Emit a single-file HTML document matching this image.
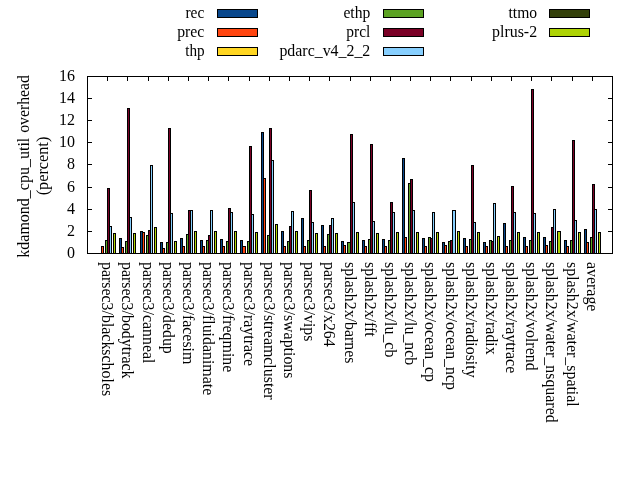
<!DOCTYPE html>
<html><head><meta charset="utf-8"><title>kdamond_cpu_util overhead</title>
<style>html,body{margin:0;padding:0;background:#fff}svg{display:block}text{font-family:"Liberation Serif",serif;font-size:16px;fill:#000}</style></head><body>
<svg width="640" height="480" viewBox="0 0 640 480">
<rect width="640" height="480" fill="#fff"/>
<g shape-rendering="crispEdges">
<rect x="101.5" y="246.5" width="2" height="7" fill="#ff4510" stroke="#000" stroke-width="1"/>
<rect x="105.5" y="240.5" width="2" height="13" fill="#5ca223" stroke="#000" stroke-width="1"/>
<rect x="107.5" y="188.5" width="2" height="65" fill="#7a0026" stroke="#000" stroke-width="1"/>
<rect x="109.5" y="226.5" width="2" height="27" fill="#87cffe" stroke="#000" stroke-width="1"/>
<rect x="113.5" y="233.5" width="2" height="20" fill="#aed304" stroke="#000" stroke-width="1"/>
<rect x="119.5" y="238.5" width="2" height="15" fill="#08478c" stroke="#000" stroke-width="1"/>
<rect x="121.5" y="247.5" width="2" height="6" fill="#ff4510" stroke="#000" stroke-width="1"/>
<rect x="125.5" y="241.5" width="2" height="12" fill="#5ca223" stroke="#000" stroke-width="1"/>
<rect x="127.5" y="108.5" width="2" height="145" fill="#7a0026" stroke="#000" stroke-width="1"/>
<rect x="129.5" y="217.5" width="2" height="36" fill="#87cffe" stroke="#000" stroke-width="1"/>
<rect x="133.5" y="233.5" width="2" height="20" fill="#aed304" stroke="#000" stroke-width="1"/>
<rect x="140.5" y="231.5" width="2" height="22" fill="#08478c" stroke="#000" stroke-width="1"/>
<rect x="142.5" y="232.5" width="2" height="21" fill="#ff4510" stroke="#000" stroke-width="1"/>
<rect x="146.5" y="235.5" width="2" height="18" fill="#5ca223" stroke="#000" stroke-width="1"/>
<rect x="148.5" y="230.5" width="2" height="23" fill="#7a0026" stroke="#000" stroke-width="1"/>
<rect x="150.5" y="165.5" width="2" height="88" fill="#87cffe" stroke="#000" stroke-width="1"/>
<rect x="154.5" y="227.5" width="2" height="26" fill="#aed304" stroke="#000" stroke-width="1"/>
<rect x="160.5" y="242.5" width="2" height="11" fill="#08478c" stroke="#000" stroke-width="1"/>
<rect x="162.5" y="248.5" width="2" height="5" fill="#ff4510" stroke="#000" stroke-width="1"/>
<rect x="166.5" y="242.5" width="2" height="11" fill="#5ca223" stroke="#000" stroke-width="1"/>
<rect x="168.5" y="128.5" width="2" height="125" fill="#7a0026" stroke="#000" stroke-width="1"/>
<rect x="170.5" y="213.5" width="2" height="40" fill="#87cffe" stroke="#000" stroke-width="1"/>
<rect x="174.5" y="241.5" width="2" height="12" fill="#aed304" stroke="#000" stroke-width="1"/>
<rect x="180.5" y="238.5" width="2" height="15" fill="#08478c" stroke="#000" stroke-width="1"/>
<rect x="182.5" y="246.5" width="2" height="7" fill="#ff4510" stroke="#000" stroke-width="1"/>
<rect x="186.5" y="234.5" width="2" height="19" fill="#5ca223" stroke="#000" stroke-width="1"/>
<rect x="188.5" y="210.5" width="2" height="43" fill="#7a0026" stroke="#000" stroke-width="1"/>
<rect x="190.5" y="210.5" width="2" height="43" fill="#87cffe" stroke="#000" stroke-width="1"/>
<rect x="194.5" y="231.5" width="2" height="22" fill="#aed304" stroke="#000" stroke-width="1"/>
<rect x="200.5" y="240.5" width="2" height="13" fill="#08478c" stroke="#000" stroke-width="1"/>
<rect x="202.5" y="246.5" width="2" height="7" fill="#ff4510" stroke="#000" stroke-width="1"/>
<rect x="206.5" y="240.5" width="2" height="13" fill="#5ca223" stroke="#000" stroke-width="1"/>
<rect x="208.5" y="235.5" width="2" height="18" fill="#7a0026" stroke="#000" stroke-width="1"/>
<rect x="210.5" y="210.5" width="2" height="43" fill="#87cffe" stroke="#000" stroke-width="1"/>
<rect x="214.5" y="231.5" width="2" height="22" fill="#aed304" stroke="#000" stroke-width="1"/>
<rect x="220.5" y="239.5" width="2" height="14" fill="#08478c" stroke="#000" stroke-width="1"/>
<rect x="222.5" y="246.5" width="2" height="7" fill="#ff4510" stroke="#000" stroke-width="1"/>
<rect x="226.5" y="241.5" width="2" height="12" fill="#5ca223" stroke="#000" stroke-width="1"/>
<rect x="228.5" y="208.5" width="2" height="45" fill="#7a0026" stroke="#000" stroke-width="1"/>
<rect x="230.5" y="212.5" width="2" height="41" fill="#87cffe" stroke="#000" stroke-width="1"/>
<rect x="234.5" y="231.5" width="2" height="22" fill="#aed304" stroke="#000" stroke-width="1"/>
<rect x="240.5" y="240.5" width="2" height="13" fill="#08478c" stroke="#000" stroke-width="1"/>
<rect x="242.5" y="246.5" width="3" height="7" fill="#ff4510" stroke="#000" stroke-width="1"/>
<rect x="247.5" y="241.5" width="2" height="12" fill="#5ca223" stroke="#000" stroke-width="1"/>
<rect x="249.5" y="146.5" width="2" height="107" fill="#7a0026" stroke="#000" stroke-width="1"/>
<rect x="251.5" y="214.5" width="2" height="39" fill="#87cffe" stroke="#000" stroke-width="1"/>
<rect x="255.5" y="232.5" width="2" height="21" fill="#aed304" stroke="#000" stroke-width="1"/>
<rect x="261.5" y="132.5" width="2" height="121" fill="#08478c" stroke="#000" stroke-width="1"/>
<rect x="263.5" y="178.5" width="2" height="75" fill="#ff4510" stroke="#000" stroke-width="1"/>
<rect x="267.5" y="235.5" width="2" height="18" fill="#5ca223" stroke="#000" stroke-width="1"/>
<rect x="269.5" y="128.5" width="2" height="125" fill="#7a0026" stroke="#000" stroke-width="1"/>
<rect x="271.5" y="160.5" width="2" height="93" fill="#87cffe" stroke="#000" stroke-width="1"/>
<rect x="275.5" y="224.5" width="2" height="29" fill="#aed304" stroke="#000" stroke-width="1"/>
<rect x="281.5" y="231.5" width="2" height="22" fill="#08478c" stroke="#000" stroke-width="1"/>
<rect x="283.5" y="246.5" width="2" height="7" fill="#ff4510" stroke="#000" stroke-width="1"/>
<rect x="287.5" y="241.5" width="2" height="12" fill="#5ca223" stroke="#000" stroke-width="1"/>
<rect x="289.5" y="226.5" width="2" height="27" fill="#7a0026" stroke="#000" stroke-width="1"/>
<rect x="291.5" y="211.5" width="2" height="42" fill="#87cffe" stroke="#000" stroke-width="1"/>
<rect x="295.5" y="231.5" width="2" height="22" fill="#aed304" stroke="#000" stroke-width="1"/>
<rect x="301.5" y="218.5" width="2" height="35" fill="#08478c" stroke="#000" stroke-width="1"/>
<rect x="303.5" y="246.5" width="2" height="7" fill="#ff4510" stroke="#000" stroke-width="1"/>
<rect x="307.5" y="240.5" width="2" height="13" fill="#5ca223" stroke="#000" stroke-width="1"/>
<rect x="309.5" y="190.5" width="2" height="63" fill="#7a0026" stroke="#000" stroke-width="1"/>
<rect x="311.5" y="222.5" width="2" height="31" fill="#87cffe" stroke="#000" stroke-width="1"/>
<rect x="315.5" y="233.5" width="2" height="20" fill="#aed304" stroke="#000" stroke-width="1"/>
<rect x="321.5" y="225.5" width="2" height="28" fill="#08478c" stroke="#000" stroke-width="1"/>
<rect x="323.5" y="246.5" width="2" height="7" fill="#ff4510" stroke="#000" stroke-width="1"/>
<rect x="327.5" y="234.5" width="2" height="19" fill="#5ca223" stroke="#000" stroke-width="1"/>
<rect x="329.5" y="225.5" width="2" height="28" fill="#7a0026" stroke="#000" stroke-width="1"/>
<rect x="331.5" y="218.5" width="2" height="35" fill="#87cffe" stroke="#000" stroke-width="1"/>
<rect x="335.5" y="233.5" width="2" height="20" fill="#aed304" stroke="#000" stroke-width="1"/>
<rect x="341.5" y="241.5" width="2" height="12" fill="#08478c" stroke="#000" stroke-width="1"/>
<rect x="343.5" y="245.5" width="2" height="8" fill="#ff4510" stroke="#000" stroke-width="1"/>
<rect x="347.5" y="242.5" width="3" height="11" fill="#5ca223" stroke="#000" stroke-width="1"/>
<rect x="350.5" y="134.5" width="2" height="119" fill="#7a0026" stroke="#000" stroke-width="1"/>
<rect x="352.5" y="202.5" width="2" height="51" fill="#87cffe" stroke="#000" stroke-width="1"/>
<rect x="356.5" y="232.5" width="2" height="21" fill="#aed304" stroke="#000" stroke-width="1"/>
<rect x="362.5" y="240.5" width="2" height="13" fill="#08478c" stroke="#000" stroke-width="1"/>
<rect x="364.5" y="246.5" width="2" height="7" fill="#ff4510" stroke="#000" stroke-width="1"/>
<rect x="368.5" y="239.5" width="2" height="14" fill="#5ca223" stroke="#000" stroke-width="1"/>
<rect x="370.5" y="144.5" width="2" height="109" fill="#7a0026" stroke="#000" stroke-width="1"/>
<rect x="372.5" y="221.5" width="2" height="32" fill="#87cffe" stroke="#000" stroke-width="1"/>
<rect x="376.5" y="233.5" width="2" height="20" fill="#aed304" stroke="#000" stroke-width="1"/>
<rect x="382.5" y="239.5" width="2" height="14" fill="#08478c" stroke="#000" stroke-width="1"/>
<rect x="384.5" y="246.5" width="2" height="7" fill="#ff4510" stroke="#000" stroke-width="1"/>
<rect x="388.5" y="240.5" width="2" height="13" fill="#5ca223" stroke="#000" stroke-width="1"/>
<rect x="390.5" y="202.5" width="2" height="51" fill="#7a0026" stroke="#000" stroke-width="1"/>
<rect x="392.5" y="212.5" width="2" height="41" fill="#87cffe" stroke="#000" stroke-width="1"/>
<rect x="396.5" y="232.5" width="2" height="21" fill="#aed304" stroke="#000" stroke-width="1"/>
<rect x="402.5" y="158.5" width="2" height="95" fill="#08478c" stroke="#000" stroke-width="1"/>
<rect x="404.5" y="237.5" width="2" height="16" fill="#ff4510" stroke="#000" stroke-width="1"/>
<rect x="408.5" y="183.5" width="2" height="70" fill="#5ca223" stroke="#000" stroke-width="1"/>
<rect x="410.5" y="179.5" width="2" height="74" fill="#7a0026" stroke="#000" stroke-width="1"/>
<rect x="412.5" y="210.5" width="2" height="43" fill="#87cffe" stroke="#000" stroke-width="1"/>
<rect x="416.5" y="232.5" width="2" height="21" fill="#aed304" stroke="#000" stroke-width="1"/>
<rect x="422.5" y="238.5" width="2" height="15" fill="#08478c" stroke="#000" stroke-width="1"/>
<rect x="424.5" y="246.5" width="2" height="7" fill="#ff4510" stroke="#000" stroke-width="1"/>
<rect x="428.5" y="237.5" width="2" height="16" fill="#5ca223" stroke="#000" stroke-width="1"/>
<rect x="430.5" y="238.5" width="2" height="15" fill="#7a0026" stroke="#000" stroke-width="1"/>
<rect x="432.5" y="212.5" width="2" height="41" fill="#87cffe" stroke="#000" stroke-width="1"/>
<rect x="436.5" y="232.5" width="2" height="21" fill="#aed304" stroke="#000" stroke-width="1"/>
<rect x="442.5" y="242.5" width="2" height="11" fill="#08478c" stroke="#000" stroke-width="1"/>
<rect x="444.5" y="245.5" width="2" height="8" fill="#ff4510" stroke="#000" stroke-width="1"/>
<rect x="448.5" y="241.5" width="2" height="12" fill="#5ca223" stroke="#000" stroke-width="1"/>
<rect x="450.5" y="240.5" width="2" height="13" fill="#7a0026" stroke="#000" stroke-width="1"/>
<rect x="452.5" y="210.5" width="3" height="43" fill="#87cffe" stroke="#000" stroke-width="1"/>
<rect x="457.5" y="231.5" width="2" height="22" fill="#aed304" stroke="#000" stroke-width="1"/>
<rect x="463.5" y="238.5" width="2" height="15" fill="#08478c" stroke="#000" stroke-width="1"/>
<rect x="465.5" y="246.5" width="2" height="7" fill="#ff4510" stroke="#000" stroke-width="1"/>
<rect x="469.5" y="239.5" width="2" height="14" fill="#5ca223" stroke="#000" stroke-width="1"/>
<rect x="471.5" y="165.5" width="2" height="88" fill="#7a0026" stroke="#000" stroke-width="1"/>
<rect x="473.5" y="222.5" width="2" height="31" fill="#87cffe" stroke="#000" stroke-width="1"/>
<rect x="477.5" y="232.5" width="2" height="21" fill="#aed304" stroke="#000" stroke-width="1"/>
<rect x="483.5" y="242.5" width="2" height="11" fill="#08478c" stroke="#000" stroke-width="1"/>
<rect x="485.5" y="246.5" width="2" height="7" fill="#ff4510" stroke="#000" stroke-width="1"/>
<rect x="489.5" y="240.5" width="2" height="13" fill="#5ca223" stroke="#000" stroke-width="1"/>
<rect x="491.5" y="241.5" width="2" height="12" fill="#7a0026" stroke="#000" stroke-width="1"/>
<rect x="493.5" y="203.5" width="2" height="50" fill="#87cffe" stroke="#000" stroke-width="1"/>
<rect x="497.5" y="236.5" width="2" height="17" fill="#aed304" stroke="#000" stroke-width="1"/>
<rect x="503.5" y="223.5" width="2" height="30" fill="#08478c" stroke="#000" stroke-width="1"/>
<rect x="505.5" y="246.5" width="2" height="7" fill="#ff4510" stroke="#000" stroke-width="1"/>
<rect x="509.5" y="240.5" width="2" height="13" fill="#5ca223" stroke="#000" stroke-width="1"/>
<rect x="511.5" y="186.5" width="2" height="67" fill="#7a0026" stroke="#000" stroke-width="1"/>
<rect x="513.5" y="212.5" width="2" height="41" fill="#87cffe" stroke="#000" stroke-width="1"/>
<rect x="517.5" y="232.5" width="2" height="21" fill="#aed304" stroke="#000" stroke-width="1"/>
<rect x="523.5" y="237.5" width="2" height="16" fill="#08478c" stroke="#000" stroke-width="1"/>
<rect x="525.5" y="246.5" width="2" height="7" fill="#ff4510" stroke="#000" stroke-width="1"/>
<rect x="529.5" y="240.5" width="2" height="13" fill="#5ca223" stroke="#000" stroke-width="1"/>
<rect x="531.5" y="89.5" width="2" height="164" fill="#7a0026" stroke="#000" stroke-width="1"/>
<rect x="533.5" y="213.5" width="2" height="40" fill="#87cffe" stroke="#000" stroke-width="1"/>
<rect x="537.5" y="232.5" width="2" height="21" fill="#aed304" stroke="#000" stroke-width="1"/>
<rect x="543.5" y="237.5" width="2" height="16" fill="#08478c" stroke="#000" stroke-width="1"/>
<rect x="545.5" y="245.5" width="2" height="8" fill="#ff4510" stroke="#000" stroke-width="1"/>
<rect x="549.5" y="241.5" width="2" height="12" fill="#5ca223" stroke="#000" stroke-width="1"/>
<rect x="551.5" y="227.5" width="2" height="26" fill="#7a0026" stroke="#000" stroke-width="1"/>
<rect x="553.5" y="209.5" width="2" height="44" fill="#87cffe" stroke="#000" stroke-width="1"/>
<rect x="557.5" y="231.5" width="3" height="22" fill="#aed304" stroke="#000" stroke-width="1"/>
<rect x="564.5" y="240.5" width="2" height="13" fill="#08478c" stroke="#000" stroke-width="1"/>
<rect x="566.5" y="246.5" width="2" height="7" fill="#ff4510" stroke="#000" stroke-width="1"/>
<rect x="570.5" y="240.5" width="2" height="13" fill="#5ca223" stroke="#000" stroke-width="1"/>
<rect x="572.5" y="140.5" width="2" height="113" fill="#7a0026" stroke="#000" stroke-width="1"/>
<rect x="574.5" y="220.5" width="2" height="33" fill="#87cffe" stroke="#000" stroke-width="1"/>
<rect x="578.5" y="232.5" width="2" height="21" fill="#aed304" stroke="#000" stroke-width="1"/>
<rect x="584.5" y="229.5" width="2" height="24" fill="#08478c" stroke="#000" stroke-width="1"/>
<rect x="586.5" y="242.5" width="2" height="11" fill="#ff4510" stroke="#000" stroke-width="1"/>
<rect x="590.5" y="237.5" width="2" height="16" fill="#5ca223" stroke="#000" stroke-width="1"/>
<rect x="592.5" y="184.5" width="2" height="69" fill="#7a0026" stroke="#000" stroke-width="1"/>
<rect x="594.5" y="209.5" width="2" height="44" fill="#87cffe" stroke="#000" stroke-width="1"/>
<rect x="598.5" y="232.5" width="2" height="21" fill="#aed304" stroke="#000" stroke-width="1"/>
<rect x="87.5" y="76.5" width="525" height="177" fill="none" stroke="#000" stroke-width="1"/>
<rect x="87" y="253" width="5" height="1" fill="#000"/>
<rect x="608" y="253" width="5" height="1" fill="#000"/>
<rect x="87" y="231" width="5" height="1" fill="#000"/>
<rect x="608" y="231" width="5" height="1" fill="#000"/>
<rect x="87" y="209" width="5" height="1" fill="#000"/>
<rect x="608" y="209" width="5" height="1" fill="#000"/>
<rect x="87" y="187" width="5" height="1" fill="#000"/>
<rect x="608" y="187" width="5" height="1" fill="#000"/>
<rect x="87" y="164" width="5" height="1" fill="#000"/>
<rect x="608" y="164" width="5" height="1" fill="#000"/>
<rect x="87" y="142" width="5" height="1" fill="#000"/>
<rect x="608" y="142" width="5" height="1" fill="#000"/>
<rect x="87" y="120" width="5" height="1" fill="#000"/>
<rect x="608" y="120" width="5" height="1" fill="#000"/>
<rect x="87" y="98" width="5" height="1" fill="#000"/>
<rect x="608" y="98" width="5" height="1" fill="#000"/>
<rect x="87" y="76" width="5" height="1" fill="#000"/>
<rect x="608" y="76" width="5" height="1" fill="#000"/>
<rect x="107" y="76" width="1" height="5" fill="#000"/>
<rect x="127" y="76" width="1" height="5" fill="#000"/>
<rect x="148" y="76" width="1" height="5" fill="#000"/>
<rect x="168" y="76" width="1" height="5" fill="#000"/>
<rect x="188" y="76" width="1" height="5" fill="#000"/>
<rect x="208" y="76" width="1" height="5" fill="#000"/>
<rect x="228" y="76" width="1" height="5" fill="#000"/>
<rect x="249" y="76" width="1" height="5" fill="#000"/>
<rect x="269" y="76" width="1" height="5" fill="#000"/>
<rect x="289" y="76" width="1" height="5" fill="#000"/>
<rect x="309" y="76" width="1" height="5" fill="#000"/>
<rect x="329" y="76" width="1" height="5" fill="#000"/>
<rect x="350" y="76" width="1" height="5" fill="#000"/>
<rect x="370" y="76" width="1" height="5" fill="#000"/>
<rect x="390" y="76" width="1" height="5" fill="#000"/>
<rect x="410" y="76" width="1" height="5" fill="#000"/>
<rect x="430" y="76" width="1" height="5" fill="#000"/>
<rect x="450" y="76" width="1" height="5" fill="#000"/>
<rect x="471" y="76" width="1" height="5" fill="#000"/>
<rect x="491" y="76" width="1" height="5" fill="#000"/>
<rect x="511" y="76" width="1" height="5" fill="#000"/>
<rect x="531" y="76" width="1" height="5" fill="#000"/>
<rect x="551" y="76" width="1" height="5" fill="#000"/>
<rect x="572" y="76" width="1" height="5" fill="#000"/>
<rect x="592" y="76" width="1" height="5" fill="#000"/>
<rect x="217.5" y="9.5" width="40" height="8" fill="#08478c" stroke="#000" stroke-width="1"/>
<rect x="217.5" y="28.5" width="40" height="8" fill="#ff4510" stroke="#000" stroke-width="1"/>
<rect x="217.5" y="47.5" width="40" height="8" fill="#ffd622" stroke="#000" stroke-width="1"/>
<rect x="383.5" y="9.5" width="40" height="8" fill="#5ca223" stroke="#000" stroke-width="1"/>
<rect x="383.5" y="28.5" width="40" height="8" fill="#7a0026" stroke="#000" stroke-width="1"/>
<rect x="383.5" y="47.5" width="40" height="8" fill="#87cffe" stroke="#000" stroke-width="1"/>
<rect x="549.5" y="9.5" width="40" height="8" fill="#33400a" stroke="#000" stroke-width="1"/>
<rect x="549.5" y="28.5" width="40" height="8" fill="#aed304" stroke="#000" stroke-width="1"/>
</g>
<text transform="translate(204.3,18) scale(0.965,1)" text-anchor="end">rec</text>
<text transform="translate(204.3,37) scale(0.985,1)" text-anchor="end">prec</text>
<text transform="translate(204.7,56) scale(0.950,1)" text-anchor="end">thp</text>
<text transform="translate(370.3,18) scale(0.975,1)" text-anchor="end">ethp</text>
<text transform="translate(370.3,37) scale(0.965,1)" text-anchor="end">prcl</text>
<text transform="translate(370.3,56) scale(0.993,1)" text-anchor="end">pdarc_v4_2_2</text>
<text transform="translate(537.1,18) scale(0.975,1)" text-anchor="end">ttmo</text>
<text transform="translate(537.1,37) scale(0.995,1)" text-anchor="end">plrus-2</text>
<text transform="translate(75.0,258) scale(1,1)" text-anchor="end">0</text>
<text transform="translate(75.0,236) scale(1,1)" text-anchor="end">2</text>
<text transform="translate(75.0,214) scale(1,1)" text-anchor="end">4</text>
<text transform="translate(75.0,192) scale(1,1)" text-anchor="end">6</text>
<text transform="translate(75.0,169) scale(1,1)" text-anchor="end">8</text>
<text transform="translate(75.0,147) scale(1,1)" text-anchor="end">10</text>
<text transform="translate(75.0,125) scale(1,1)" text-anchor="end">12</text>
<text transform="translate(75.0,103) scale(1,1)" text-anchor="end">14</text>
<text transform="translate(75.0,81) scale(1,1)" text-anchor="end">16</text>
<text transform="translate(102.2,262) rotate(90)" style="font-size:15.9px" text-anchor="start">parsec3/blackscholes</text>
<text transform="translate(122.4,262) rotate(90)" style="font-size:15.9px" text-anchor="start">parsec3/bodytrack</text>
<text transform="translate(142.6,262) rotate(90)" style="font-size:15.9px" text-anchor="start">parsec3/canneal</text>
<text transform="translate(162.8,262) rotate(90)" style="font-size:15.9px" text-anchor="start">parsec3/dedup</text>
<text transform="translate(183.0,262) rotate(90)" style="font-size:15.9px" text-anchor="start">parsec3/facesim</text>
<text transform="translate(203.2,262) rotate(90)" style="font-size:15.9px" text-anchor="start">parsec3/fluidanimate</text>
<text transform="translate(223.3,262) rotate(90)" style="font-size:15.9px" text-anchor="start">parsec3/freqmine</text>
<text transform="translate(243.5,262) rotate(90)" style="font-size:15.9px" text-anchor="start">parsec3/raytrace</text>
<text transform="translate(263.7,262) rotate(90)" style="font-size:15.9px" text-anchor="start">parsec3/streamcluster</text>
<text transform="translate(283.9,262) rotate(90)" style="font-size:15.9px" text-anchor="start">parsec3/swaptions</text>
<text transform="translate(304.1,262) rotate(90)" style="font-size:15.9px" text-anchor="start">parsec3/vips</text>
<text transform="translate(324.3,262) rotate(90)" style="font-size:15.9px" text-anchor="start">parsec3/x264</text>
<text transform="translate(344.5,262) rotate(90)" style="font-size:15.9px" text-anchor="start">splash2x/barnes</text>
<text transform="translate(364.7,262) rotate(90)" style="font-size:15.9px" text-anchor="start">splash2x/fft</text>
<text transform="translate(384.9,262) rotate(90)" style="font-size:15.9px" text-anchor="start">splash2x/lu_cb</text>
<text transform="translate(405.1,262) rotate(90)" style="font-size:15.9px" text-anchor="start">splash2x/lu_ncb</text>
<text transform="translate(425.3,262) rotate(90)" style="font-size:15.9px" text-anchor="start">splash2x/ocean_cp</text>
<text transform="translate(445.5,262) rotate(90)" style="font-size:15.9px" text-anchor="start">splash2x/ocean_ncp</text>
<text transform="translate(465.7,262) rotate(90)" style="font-size:15.9px" text-anchor="start">splash2x/radiosity</text>
<text transform="translate(485.8,262) rotate(90)" style="font-size:15.9px" text-anchor="start">splash2x/radix</text>
<text transform="translate(506.0,262) rotate(90)" style="font-size:15.9px" text-anchor="start">splash2x/raytrace</text>
<text transform="translate(526.2,262) rotate(90)" style="font-size:15.9px" text-anchor="start">splash2x/volrend</text>
<text transform="translate(546.4,262) rotate(90)" style="font-size:15.9px" text-anchor="start">splash2x/water_nsquared</text>
<text transform="translate(566.6,262) rotate(90)" style="font-size:15.9px" text-anchor="start">splash2x/water_spatial</text>
<text transform="translate(586.8,262) rotate(90)" style="font-size:15.9px" text-anchor="start">average</text>
<text transform="translate(29,257.7) rotate(-90)" text-anchor="start">kdamond_cpu_util <tspan dx="0.9" style="font-size:15.75px">overhead</tspan></text>
<text transform="translate(48,195.3) rotate(-90) scale(1.016,1)" text-anchor="start">(percent)</text>
</svg></body></html>
